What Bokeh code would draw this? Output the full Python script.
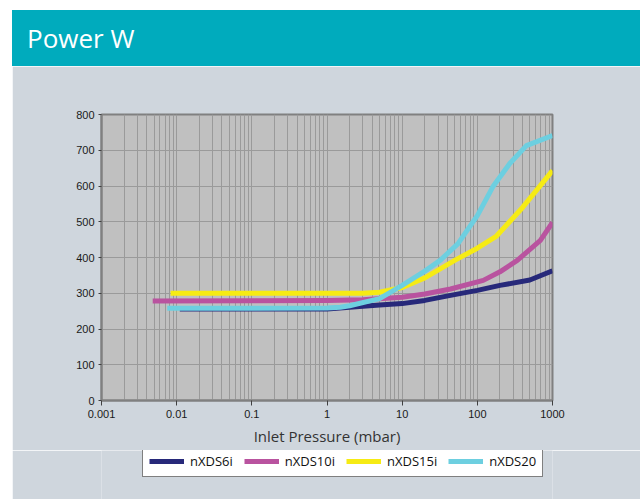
from bokeh.plotting import figure
from bokeh.models import (Range1d, FixedTicker, CustomJSTickFormatter, Legend,
                          LegendItem, Div)
from bokeh.layouts import column
from bokeh.embed import file_html
from bokeh.resources import INLINE

# ---- data ----
TITLE = "Power W"
X_LABEL = "Inlet Pressure (mbar)"
X_TICKS = [0.001, 0.01, 0.1, 1, 10, 100, 1000]
X_TICK_LABELS = ["0.001", "0.01", "0.1", "1", "10", "100", "1000"]
Y_TICKS = [0, 100, 200, 300, 400, 500, 600, 700, 800]

NAMES = ["nXDS6i", "nXDS10i", "nXDS15i", "nXDS20"]
COLORS = ["#27297a", "#b9539f", "#f6eb14", "#6dcfe0"]

x_6i = [0.011, 0.1, 1, 2, 5, 10, 20, 44, 100, 200, 500, 1000]
y_6i = [256, 256, 256, 261, 267, 271, 280, 294, 308, 322, 337, 363]

x_10i = [0.0048, 0.1, 1, 3, 10, 20, 44, 120, 200, 340, 690, 1000]
y_10i = [278, 279, 280, 282, 289, 298, 312, 336, 360, 392, 448, 498]

x_15i = [0.0083, 0.1, 1, 3, 5, 10, 20, 50, 100, 180, 400, 1000]
y_15i = [300, 300, 300, 300, 303, 316, 343, 392, 426, 460, 540, 643]

x_20 = [0.0075, 0.1, 1, 1.5, 2, 5, 10, 20, 32, 55, 100, 160, 270, 450, 1000]
y_20 = [258, 258, 259, 261, 265, 285, 322, 362, 392, 438, 517, 597, 663, 713, 741]

SERIES_X = [x_6i, x_10i, x_15i, x_20]
SERIES_Y = [y_6i, y_10i, y_15i, y_20]

PANEL = "#cfd6dd"

minor = [m * d for d in X_TICKS[:-1] for m in range(2, 10)]

p = figure(frame_width=451, frame_height=286, x_axis_type="log",
           x_range=Range1d(X_TICKS[0], X_TICKS[-1]),
           y_range=Range1d(Y_TICKS[0], Y_TICKS[-1]),
           output_backend="svg", toolbar_location=None,
           min_border_left=89, min_border_right=88,
           min_border_top=48, min_border_bottom=50,
           background_fill_color="#c0c0c0", border_fill_color=PANEL,
           outline_line_color="#808080", outline_line_width=2)

p.xaxis.ticker = FixedTicker(ticks=X_TICKS, minor_ticks=minor)
p.xaxis.formatter = CustomJSTickFormatter(
    args=dict(tvals=X_TICKS, tlabels=X_TICK_LABELS),
    code="""
    for (let i = 0; i < tvals.length; i++) {
        if (Math.abs(Math.log10(tvals[i]) - Math.log10(tick)) < 1e-6) return tlabels[i];
    }
    return '';
    """)
p.yaxis.ticker = FixedTicker(ticks=Y_TICKS)

for ax in (p.xaxis[0], p.yaxis[0]):
    ax.axis_line_color = "#808080"
    ax.axis_line_width = 2
    ax.major_tick_line_color = "#404040"
    ax.major_tick_in = 0
    ax.minor_tick_in = 0
    ax.minor_tick_out = 0
    ax.major_label_text_font = "Liberation Sans"
    ax.major_label_text_font_size = "11px"
    ax.major_label_text_color = "#1a1a1a"

p.xaxis.major_tick_out = 5
p.xaxis.major_label_standoff = 4
p.yaxis.major_tick_out = 3
p.yaxis.major_label_standoff = 4

p.xaxis.axis_label = X_LABEL
p.xaxis.axis_label_text_font = "Open Sans"
p.xaxis.axis_label_text_font_size = "15px"
p.xaxis.axis_label_text_font_style = "normal"
p.xaxis.axis_label_text_color = "#333333"
p.xaxis.axis_label_standoff = 5

p.xgrid.grid_line_color = "#9a9a9a"
p.xgrid.minor_grid_line_color = "#9a9a9a"
p.ygrid.grid_line_color = "#9a9a9a"

for col, xs, ys in zip(COLORS, SERIES_X, SERIES_Y):
    p.line(xs, ys, line_color=col, line_width=5, line_join="round")

# legend strip: a second, axis-less figure whose own view shows no data
lg = figure(width=628, height=49, x_range=Range1d(0, 1), y_range=Range1d(0, 1),
            output_backend="svg", toolbar_location=None,
            x_axis_location=None, y_axis_location=None,
            min_border=0, min_border_left=0, min_border_right=0,
            min_border_top=0, min_border_bottom=0,
            background_fill_color=PANEL, border_fill_color=PANEL,
            outline_line_color=None)
lg.grid.visible = False

items = []
for name, col, xs, ys in zip(NAMES, COLORS, SERIES_X, SERIES_Y):
    r = lg.line(xs, ys, line_color=col, line_width=5)
    items.append(LegendItem(label=name, renderers=[r]))

legend = Legend(items=items, location=(41, 22), orientation="horizontal",
                background_fill_color="white", background_fill_alpha=1,
                border_line_color="black", border_line_width=1,
                padding=6, spacing=11, margin=0,
                glyph_width=35, glyph_height=12, label_height=12,
                label_standoff=6,
                label_text_font="Open Sans", label_text_font_size="13px",
                label_text_color="#111111")
lg.add_layout(legend)

header = Div(text=TITLE, width=628, height=56, margin=0,
             styles={"background-color": "#00abbd", "color": "white",
                     "font-family": "Open Sans", "font-size": "26px",
                     "line-height": "56px", "padding-left": "15px",
                     "box-sizing": "border-box"})

layout = column(header, p, lg, spacing=0, margin=(10, 0, 0, 12))

open("out.html", "w").write(file_html(layout, INLINE))
